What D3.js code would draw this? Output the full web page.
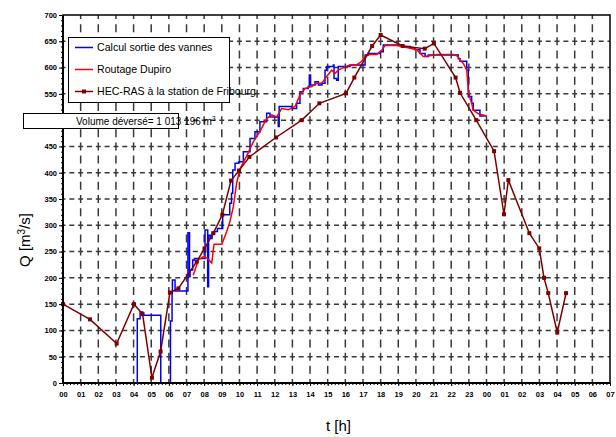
<!DOCTYPE html>
<html>
<head>
<meta charset="utf-8">
<script src="https://cdn.jsdelivr.net/npm/d3@7"></script>
<style>
  body { margin: 0; background: #fff; }
  text { font-family: "Liberation Sans Narrow", "Arial Narrow", "Liberation Sans", sans-serif; }
</style>
</head>
<body>
<div id="chart"></div>
<script>
// HEC-RAS à la station de Fribourg (hours since 00h, m3/s)
const hecT = [0, 1.53, 3.04, 4.02, 4.51, 5.04, 5.53, 6.06, 6.54, 7.58, 8.02, 8.52, 9.03, 9.52, 9.97, 10.56,
  12.07, 13.53, 14.53, 16.04, 16.51, 17.52, 18.0, 19.25, 20.5, 21.02, 22.25, 22.5, 23.42, 24.43, 24.99,
  25.24, 26.43, 26.99, 27.26, 27.5, 28.01, 28.51];
const hecQ = [150, 121, 75, 150, 131, 10, 60, 172, 180, 231, 256, 285, 320, 385, 404, 430,
  467, 500, 532, 551, 581, 641, 662, 641, 636, 646, 581, 552, 500, 441, 321,
  386, 285, 256, 200, 171, 96, 171];

// Calcul sortie des vannes (step values)
const vanT = [0.74, 4.21, 4.37, 4.52, 5.54, 6.09, 6.18, 6.2, 6.35, 7.08, 7.17, 7.2, 7.35, 7.45, 8.05, 8.2,
  8.25, 8.35, 8.45, 8.58, 8.75, 9.05, 9.3, 9.45, 9.55, 9.62, 9.75, 9.95, 10.22, 10.6, 10.88, 11.16, 11.54,
  11.73, 12.2, 12.25, 12.96, 13.24, 13.43, 13.62, 13.9, 13.96, 14.03, 14.28, 14.47, 14.68, 14.85, 14.94,
  15.32, 15.36, 15.51, 15.6, 16.27, 17.12, 17.3, 17.97, 18.15, 19.2, 19.67, 19.95, 20.23, 20.52, 20.7,
  22.4, 22.5, 22.88, 22.97, 23.16, 23.25, 23.63, 24.0];
const vanQ = [0, 122, 135, 129, 0, 118, 171, 196, 175, 286, 202, 215, 234, 237, 291, 183,
  281, 275, 285, 288, 294, 320, 320, 342, 361, 405, 418, 421, 440, 465, 478, 497, 513,
  506, 488, 526, 522, 532, 554, 560, 564, 586, 567, 573, 567, 570, 595, 602,
  605, 579, 576, 602, 605, 624, 627, 630, 643, 640, 637, 634, 627, 621, 624,
  617, 612, 595, 545, 532, 519, 508, 508];

// Routage Dupiro
const dupT = [7.38, 7.67, 7.95, 8.16, 8.43, 8.56, 9.0, 9.28, 9.46, 9.65, 9.84, 10.03, 10.41, 10.79, 11.16,
  11.54, 11.83, 12.11, 12.39, 12.77, 13.15, 13.43, 13.71, 14.09, 14.38, 14.66, 14.94, 15.23, 15.42, 15.6,
  15.89, 16.27, 16.64, 16.93, 17.12, 17.4, 17.78, 18.06, 18.25, 18.91, 19.48, 20.05, 20.42, 20.7, 21.18,
  22.12, 22.4, 22.5, 22.69, 22.88, 22.97, 23.07, 23.16, 23.25, 23.54, 24.0];
const dupQ = [205, 234, 240, 238, 228, 264, 264, 288, 307, 335, 380, 407, 432, 459, 478,
  503, 510, 506, 522, 520, 526, 548, 560, 564, 570, 570, 583, 595, 589, 595,
  600, 605, 605, 612, 621, 625, 625, 633, 642, 642, 638, 634, 621, 622, 625,
  625, 621, 614, 608, 595, 557, 541, 532, 519, 512, 508];

const hourLabels = ['00', '01', '02', '03', '04', '05', '06', '07', '08', '09', '10', '11', '12', '13', '14',
  '15', '16', '17', '18', '19', '20', '21', '22', '23', '00', '01', '02', '03', '04', '05', '06', '07'];
const qTicks = [0, 50, 100, 150, 200, 250, 300, 350, 400, 450, 500, 550, 600, 650, 700];
const legendNames = ['Calcul sortie des vannes', 'Routage Dupiro', 'HEC-RAS à la station de Fribourg'];
const legendColors = ['#0000ff', '#ff0000', '#800000'];

const W = 616, H = 437;
const margin = {top: 15, right: 6, bottom: 54, left: 63};

const svg = d3.select('#chart').append('svg')
  .attr('width', W).attr('height', H);

const x = d3.scaleLinear().domain([0, hourLabels.length - 1]).range([margin.left, W - margin.right]);
const y = d3.scaleLinear().domain([0, 700]).range([H - margin.bottom, margin.top]);

const cellW = x(1) - x(0), cellH = y(0) - y(50);

// Grid (dashed)
const grid = svg.append('g').attr('stroke', '#3a3a3a').attr('stroke-width', 1.5).attr('fill', 'none');
grid.selectAll('line.h').data(qTicks.slice(1, -1)).enter().append('line')
  .attr('x1', x(0)).attr('x2', x(31)).attr('y1', d => y(d)).attr('y2', d => y(d))
  .attr('stroke-dasharray', `5,${cellW / 2 - 5}`)
  .attr('stroke-dashoffset', 2.5);
grid.selectAll('line.v').data(d3.range(1, 31)).enter().append('line')
  .attr('x1', d => x(d)).attr('x2', d => x(d)).attr('y1', y(0)).attr('y2', y(700))
  .attr('stroke-dasharray', `8,${cellH / 2 - 8}`)
  .attr('stroke-dashoffset', 4);

// Series
const line = d3.line().x(d => x(d[0])).y(d => y(d[1]));
const zip = (a, b) => a.map((v, i) => [v, b[i]]);

svg.append('path').datum(zip(vanT, vanQ))
  .attr('fill', 'none').attr('stroke', legendColors[0]).attr('stroke-width', 1.5)
  .attr('d', line.curve(d3.curveStepAfter));
svg.append('path').datum(zip(dupT, dupQ))
  .attr('fill', 'none').attr('stroke', legendColors[1]).attr('stroke-width', 1.5)
  .attr('d', line.curve(d3.curveLinear));
const hec = zip(hecT, hecQ);
svg.append('path').datum(hec)
  .attr('fill', 'none').attr('stroke', legendColors[2]).attr('stroke-width', 1.5)
  .attr('d', line.curve(d3.curveLinear));
svg.append('g').selectAll('rect').data(hec).enter().append('rect')
  .attr('x', d => x(d[0]) - 2).attr('y', d => y(d[1]) - 2)
  .attr('width', 4).attr('height', 4).attr('fill', legendColors[2]);

// Axes
const yAxis = svg.append('g').attr('transform', `translate(${margin.left},0)`)
  .call(d3.axisLeft(y).tickValues(qTicks).tickSize(4).tickPadding(2));
yAxis.select('.domain').remove();
yAxis.selectAll('text').attr('font-size', 7.5).attr('font-weight', 'bold').attr('fill', '#000');
svg.append('g').attr('transform', `translate(${margin.left},0)`)
  .call(d3.axisLeft(y).tickValues(d3.range(0, 701, 10)).tickSize(2).tickFormat(''))
  .select('.domain').remove();

const xAxis = svg.append('g').attr('transform', `translate(0,${y(0)})`)
  .call(d3.axisBottom(x).tickValues(d3.range(0, 32)).tickSize(3).tickPadding(6)
    .tickFormat((d, i) => hourLabels[i]));
xAxis.select('.domain').remove();
xAxis.selectAll('text').attr('font-size', 7.5).attr('font-weight', 'bold').attr('fill', '#000');
svg.append('g').attr('transform', `translate(0,${y(0)})`)
  .call(d3.axisBottom(x).tickValues(d3.range(0, 31.01, 0.2)).tickSize(2).tickFormat(''))
  .select('.domain').remove();

// Frame
svg.append('rect')
  .attr('x', x(0)).attr('y', y(700)).attr('width', x(31) - x(0)).attr('height', y(0) - y(700))
  .attr('fill', 'none').attr('stroke', '#000').attr('stroke-width', 1.5);
svg.append('line').attr('x1', x(0)).attr('x2', x(31)).attr('y1', y(0)).attr('y2', y(0))
  .attr('stroke', '#000').attr('stroke-width', 2);
svg.append('line').attr('x1', x(0)).attr('x2', x(0)).attr('y1', y(0)).attr('y2', y(700))
  .attr('stroke', '#000').attr('stroke-width', 2);

// Axis titles
svg.append('text').attr('x', (x(0) + x(31)) / 2 + 2).attr('y', 431)
  .attr('text-anchor', 'middle').attr('font-size', 15)
  .style('font-family', '"Liberation Sans", Arial, sans-serif').text('t [h]');
svg.append('text').attr('transform', 'translate(30,240) rotate(-90)')
  .attr('text-anchor', 'middle').attr('font-size', 15)
  .style('font-family', '"Liberation Sans", Arial, sans-serif')
  .html('Q [m<tspan dy="-5" font-size="10">3</tspan><tspan dy="5">/s]</tspan>');

// Legend
const lg = svg.append('g');
lg.append('rect').attr('x', 68.5).attr('y', 37.5).attr('width', 161).attr('height', 65)
  .attr('fill', '#fff').attr('stroke', '#000').attr('stroke-width', 1);
legendNames.forEach((name, i) => {
  const yy = 47.5 + i * 22;
  lg.append('line').attr('x1', 75).attr('x2', 93).attr('y1', yy).attr('y2', yy)
    .attr('stroke', legendColors[i]).attr('stroke-width', 1.5);
  if (i === 2) {
    lg.append('rect').attr('x', 82).attr('y', yy - 2).attr('width', 4).attr('height', 4)
      .attr('fill', legendColors[i]);
  }
  lg.append('text').attr('x', 97).attr('y', yy + 3.5).attr('font-size', 10.6).text(name);
});

// Volume annotation
svg.append('rect').attr('x', 23.5).attr('y', 113.5).attr('width', 155).attr('height', 15)
  .attr('fill', '#fff').attr('stroke', '#000').attr('stroke-width', 1);
svg.append('text').attr('x', 76).attr('y', 124.5).attr('font-size', 10)
  .html('Volume déversé= 1 013 196 m<tspan dy="-4" font-size="6.5">3</tspan>');
</script>
</body>
</html>
